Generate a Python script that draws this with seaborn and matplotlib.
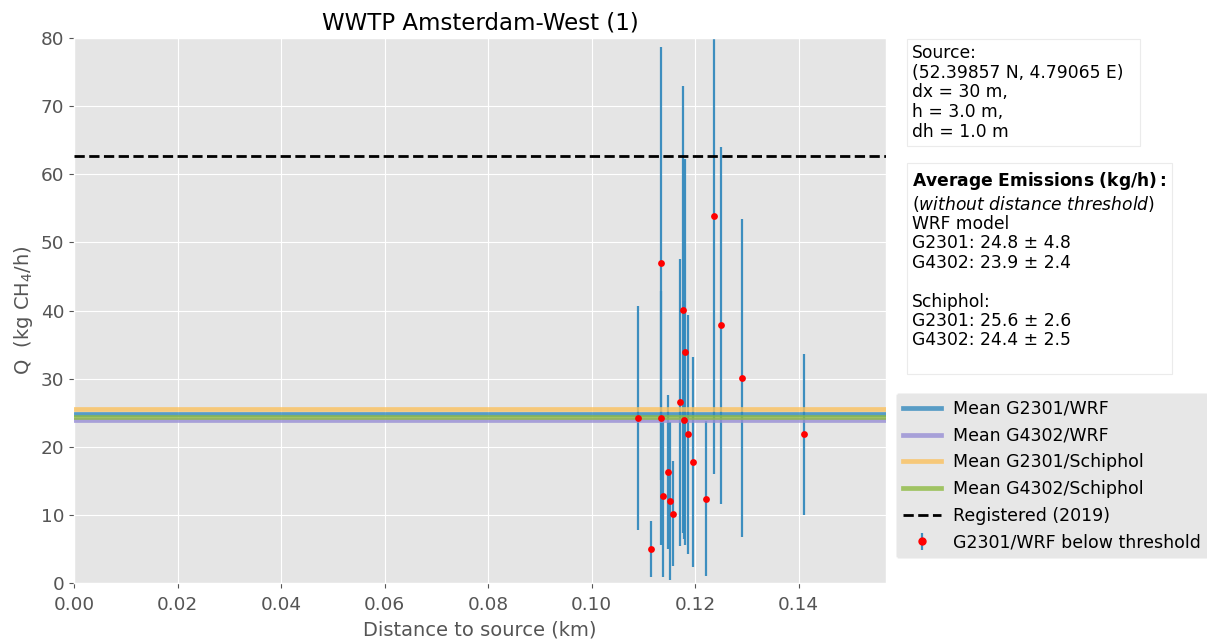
import numpy as np
import pandas as pd
import matplotlib
matplotlib.use("Agg")
import matplotlib.pyplot as plt
import seaborn as sns
from matplotlib.lines import Line2D
from matplotlib.legend_handler import HandlerTuple

# Individual plume estimates (G2301 analyser, WRF wind) below the distance threshold
distance_km = [0.1090, 0.1114, 0.1134, 0.1134, 0.1138, 0.1148, 0.1152, 0.1157,
               0.1171, 0.1176, 0.1179, 0.1180, 0.1187, 0.1197, 0.1222, 0.1236,
               0.1250, 0.1290, 0.1411]
emission_q = [24.2, 4.95, 46.9, 24.2, 12.7, 16.3, 12.0, 10.2,
              26.5, 40.1, 23.9, 33.9, 21.8, 17.8, 12.4, 53.9,
              37.8, 30.1, 21.8]
emission_err = [16.4, 4.1, 31.8, 18.6, 11.8, 11.3, 11.6, 7.7,
                21.0, 32.8, 17.5, 28.3, 17.6, 15.4, 11.4, 37.9,
                26.2, 23.4, 11.8]

# Mean emissions per instrument / wind source
mean_labels = ["Mean G2301/WRF", "Mean G4302/WRF", "Mean G2301/Schiphol", "Mean G4302/Schiphol"]
mean_values = [24.8, 23.9, 25.6, 24.4]
mean_std = [4.8, 2.4, 2.6, 2.5]
mean_colors = ["#348ABD", "#988ED5", "#FBC15E", "#8EBA42"]

registered_2019 = 62.7

x_ticks = [0.00, 0.02, 0.04, 0.06, 0.08, 0.10, 0.12, 0.14]
y_ticks = [0, 10, 20, 30, 40, 50, 60, 70, 80]

df = pd.DataFrame({"distance": distance_km, "q": emission_q, "err": emission_err})

plt.style.use("ggplot")
plt.rcParams["font.family"] = ["DejaVu Sans"]

fig = plt.figure(figsize=(12.07, 6.40), dpi=100)
ax = fig.add_axes([74 / 1207, 57 / 640, 812 / 1207, 545 / 640])

eb = ax.errorbar(df["distance"], df["q"], yerr=df["err"], fmt="none",
                 ecolor="#348ABD", elinewidth=1.6, alpha=0.95, zorder=2)

mean_handles = []
for val, lab, col in zip(mean_values, mean_labels, mean_colors):
    h = ax.axhline(val, color=col, lw=3.4, alpha=0.8, zorder=3, label=lab)
    mean_handles.append(h)

reg = ax.axhline(registered_2019, color="black", ls="--", lw=2, zorder=3,
                 label="Registered (2019)")

sns.scatterplot(data=df, x="distance", y="q", color="red", s=24,
                edgecolor="red", linewidth=0, zorder=4, ax=ax, legend=False)

ax.set_xlim(0, 0.1569)
ax.set_ylim(0, 80)
ax.set_xticks(x_ticks)
ax.set_yticks(y_ticks)
ax.set_xticklabels([f"{t:.2f}" for t in x_ticks])
ax.tick_params(axis="both", labelsize=13.3, colors="#555555")
ax.tick_params(axis="x", pad=5.5)
ax.set_xlabel("Distance to source (km)", fontsize=14, color="#555555", labelpad=5)
ax.set_ylabel(r"Q  (kg CH$_4$/h)", fontsize=14, color="#555555")
ax.set_title("WWTP Amsterdam-West (1)", fontsize=16.5, color="black", pad=6)

# Legend
marker_proxy = Line2D([], [], ls="none", marker="o", color="red", ms=5)
handles = mean_handles + [reg, (eb, marker_proxy)]
labels = mean_labels + ["Registered (2019)", "G2301/WRF below threshold"]
fig.legend(handles, labels, loc="upper left",
           bbox_to_anchor=(896 / 1207, 1 - 393 / 640), borderaxespad=0,
           fontsize=12.5, handlelength=2.2, handletextpad=0.7,
           handler_map={tuple: HandlerTuple(ndivide=1)},
           facecolor="#E5E5E5", edgecolor="#F2F2F2", framealpha=0.9)

# Info boxes
source_text = ("Source:\n(52.39857 N, 4.79065 E)  \n"
               "dx = 30 m,\nh = 3.0 m,\ndh = 1.0 m")
fig.text(912 / 1207, 1 - 44 / 640, source_text, va="top", ha="left",
         fontsize=12.3, color="black", linespacing=1.12,
         bbox=dict(boxstyle="square,pad=0.3", fc="white", ec="#EBEBEB", lw=0.8))

avg_text = (r"$\bf{Average\ Emissions\ (kg/h):}$" + "\n"
            + r"($\it{without\ distance\ threshold}$)" + "\n"
            + "WRF model\n"
            + f"G2301: {mean_values[0]:.1f} \u00b1 {mean_std[0]:.1f}\n"
            + f"G4302: {mean_values[1]:.1f} \u00b1 {mean_std[1]:.1f}\n"
            + "\nSchiphol:\n"
            + f"G2301: {mean_values[2]:.1f} \u00b1 {mean_std[2]:.1f}\n"
            + f"G4302: {mean_values[3]:.1f} \u00b1 {mean_std[3]:.1f}\n")
fig.text(912 / 1207, 1 - 170 / 640, avg_text, va="top", ha="left",
         fontsize=12.3, color="black", linespacing=1.1,
         bbox=dict(boxstyle="square,pad=0.3", fc="white", ec="#EBEBEB", lw=0.8))

fig.savefig("out.png", dpi=100)
